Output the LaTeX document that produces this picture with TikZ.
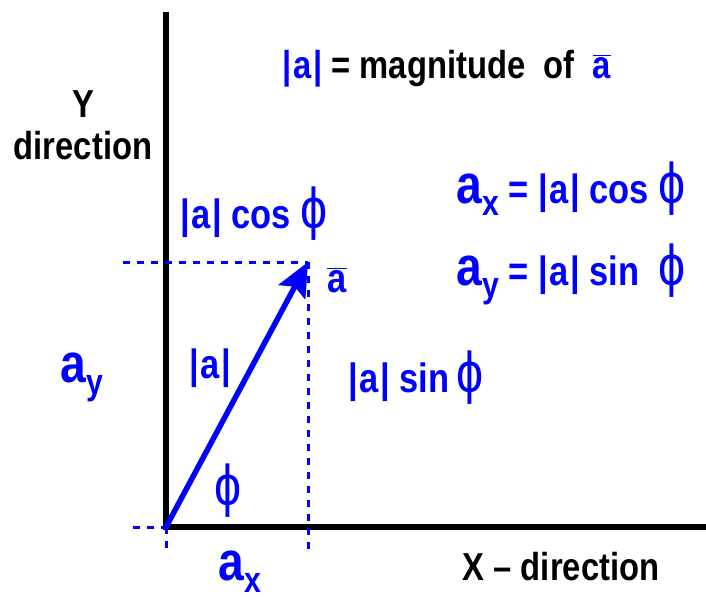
\documentclass[tikz,border=0pt]{standalone}
\usepackage{fontspec}
\setmainfont{Liberation Sans}
\newfontfamily\narrowsf[FakeStretch=0.84]{Liberation Sans Bold}
\newfontfamily\phifont{Liberation Sans}
\usetikzlibrary{arrows.meta}
\newcommand{\phisym}{\scalebox{1.05}[1.25]{\phifont\fontsize{46}{46}\selectfont\char"03D5}}
\newcommand{\bigsub}[2]{{\fontsize{55}{55}\selectfont #1}\raisebox{-12pt}{\fontsize{36}{36}\selectfont #2}}
\newcommand{\absa}{|\hspace{1.5pt}a\hspace{1.5pt}|}
\begin{document}
\begin{tikzpicture}[x=1pt,y=-1pt,
  lbl/.style={text=blue,font=\narrowsf\fontsize{41}{44}\selectfont,inner sep=0pt},
  blk/.style={text=black,font=\narrowsf\fontsize{39}{42}\selectfont,inner sep=0pt,align=center},
  guide/.style={blue,line width=3pt,dash pattern=on 7pt off 7pt}]
\useasboundingbox (0,0) rectangle (706,600);
\fill[white] (0,0) rectangle (706,600);
% axes
\coordinate (O) at (166,527);
\coordinate (ytop) at (166,12);
\coordinate (xend) at (706,527);
\coordinate (A) at (308,262);
\draw[line width=5.5pt] (ytop) -- (O) -- (xend);
% guides
\coordinate (hl) at (123,262);
\coordinate (vb) at (308,553);
\coordinate (ol) at (133,527);
\coordinate (ob) at (166,553);
\draw[guide] (hl) -- (A);
\draw[guide] (A) -- (vb);
\draw[guide] (ol) -- (O);
\draw[guide] (O) -- (ob);
% vector
\draw[blue,line width=5.5pt,-{Stealth[length=34pt,width=30pt,inset=6pt]}] (O) -- (A);
% labels
\node[blk] (ydir) at (83,125) {Y\\direction};
\node[blk] (xdir) at (561,567) {X – direction};
\node[blk,anchor=base] (mag) at (447,78) {\textcolor{blue}{\absa} = magnitude\ \ of\ \ \textcolor{blue}{$\overline{\mbox{a}}$}};
\node[lbl,anchor=base] (eqx) at (571,203) {\bigsub{a}{x} = \absa\ cos \phisym};
\node[lbl,anchor=base] (eqy) at (571,285) {\bigsub{a}{y} = \absa\ sin\ \ \phisym};
\node[lbl,anchor=base] (cosl) at (254,228) {\absa\ cos \phisym};
\node[lbl,anchor=base] (abar) at (337,292) {$\overline{\mbox{a}}$};
\node[lbl,anchor=base] (ay) at (82,382) {\bigsub{a}{y}};
\node[lbl,anchor=base] (alen) at (210,378) {\absa};
\node[lbl,anchor=base] (sinl) at (416,392) {\absa\ sin\,\phisym};
\node[lbl,anchor=base] (phi) at (228,505) {\phisym};
\node[lbl,anchor=base] (ax) at (240,580) {\bigsub{a}{x}};
\end{tikzpicture}
\end{document}
